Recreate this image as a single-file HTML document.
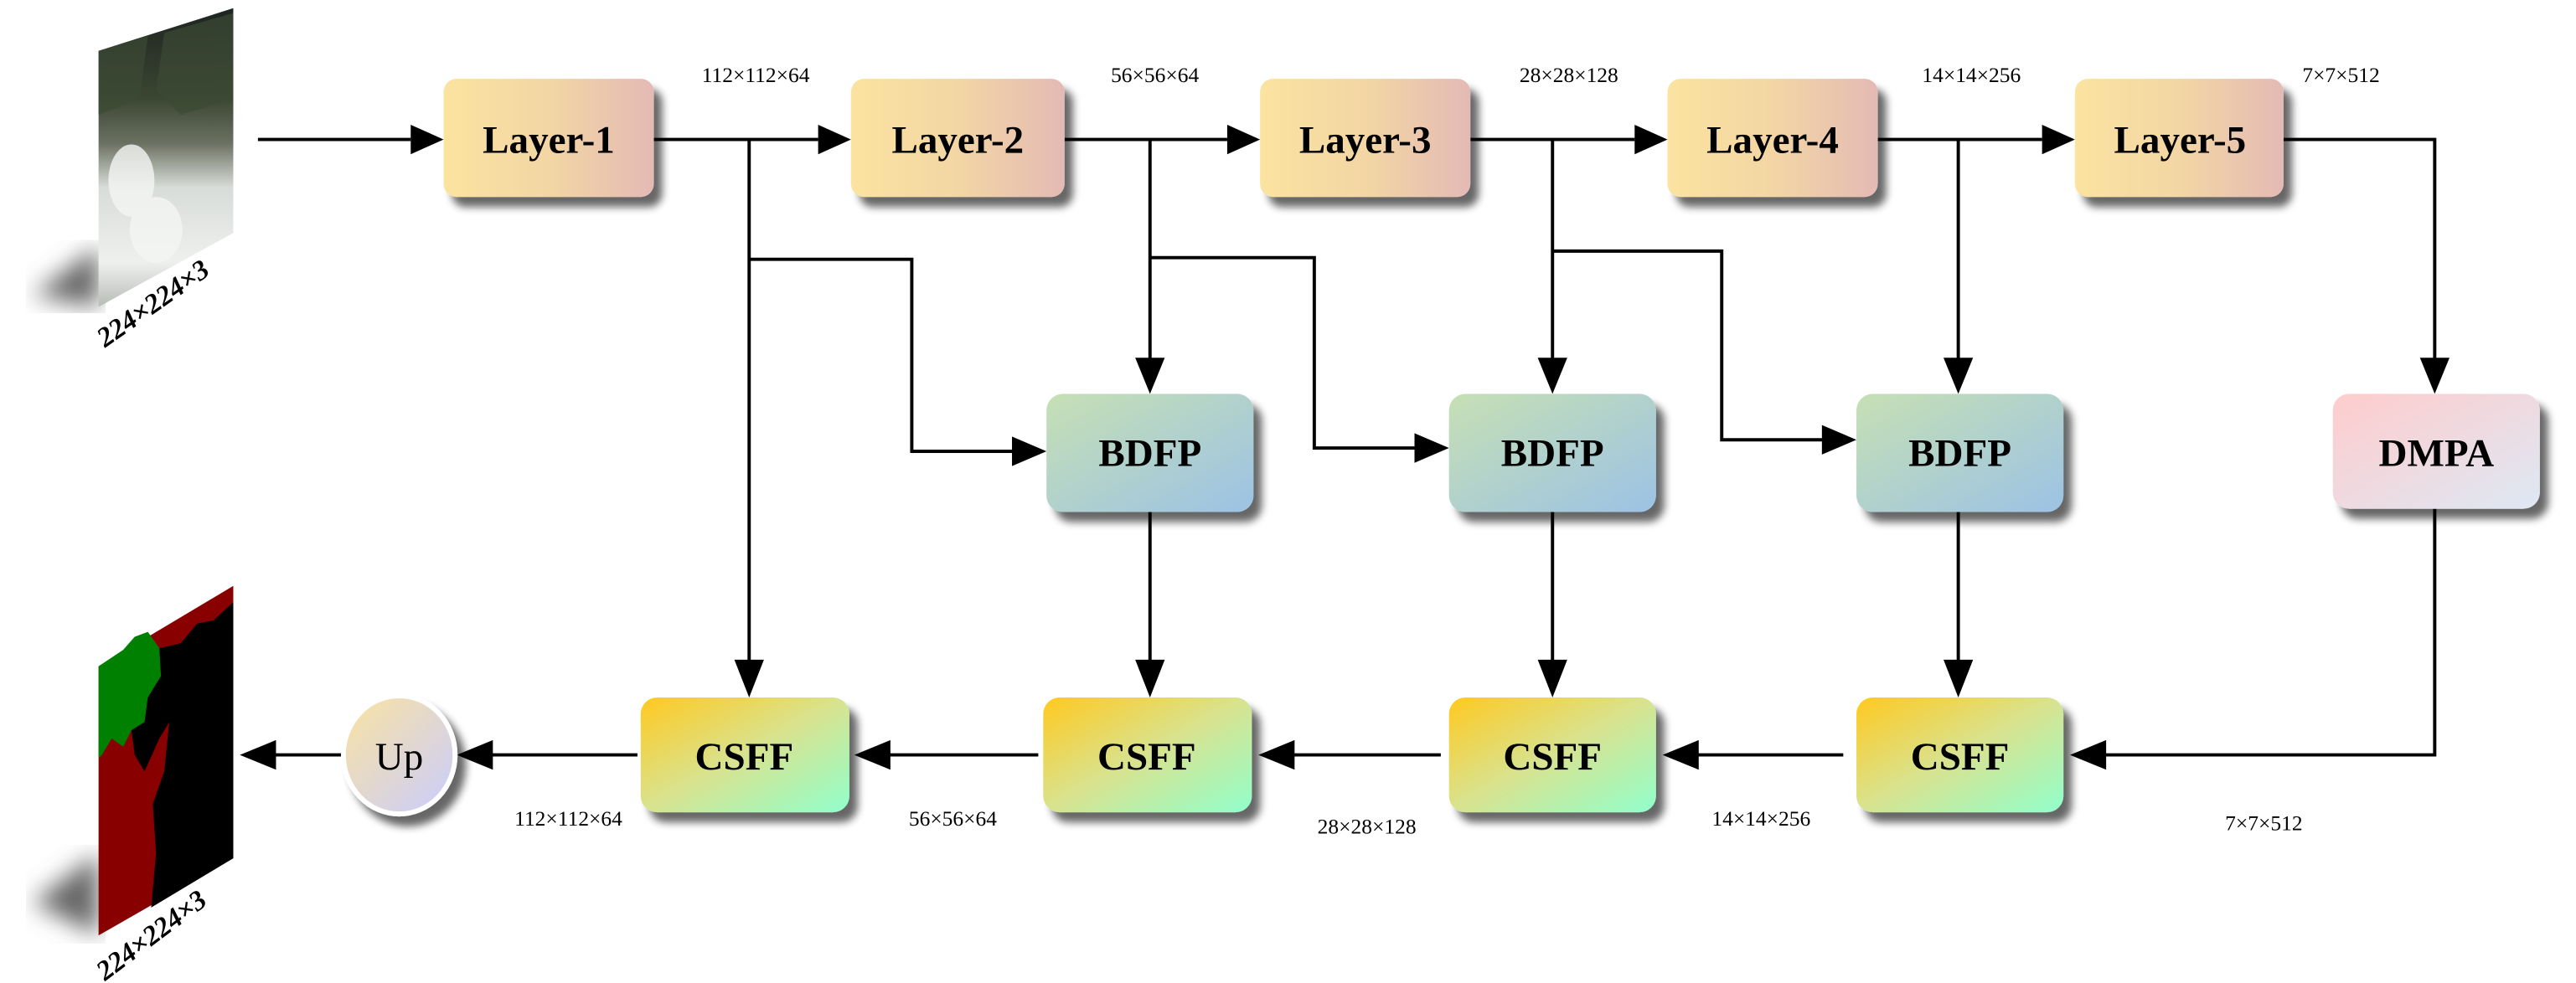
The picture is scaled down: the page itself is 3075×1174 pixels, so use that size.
<!DOCTYPE html>
<html><head><meta charset="utf-8"><style>
html,body{margin:0;padding:0;background:#fff;}
svg{display:block;}
text{font-family:"Liberation Serif",serif;}
</style></head><body>
<svg width="3075" height="1174" viewBox="0 0 1568 599" preserveAspectRatio="none" xmlns="http://www.w3.org/2000/svg">
<defs>
<linearGradient id="gL" x1="0" y1="0" x2="1" y2="0"><stop offset="0" stop-color="#fbe3a0"/><stop offset="0.5" stop-color="#f3d6a4"/><stop offset="1" stop-color="#e4bab5"/></linearGradient>
<linearGradient id="gB" x1="0" y1="0" x2="1" y2="1"><stop offset="0" stop-color="#c6e0b4"/><stop offset="1" stop-color="#9cc2e5"/></linearGradient>
<linearGradient id="gD" x1="0" y1="0" x2="1" y2="1"><stop offset="0" stop-color="#ffcccc"/><stop offset="1" stop-color="#dde8f4"/></linearGradient>
<linearGradient id="gC" x1="0" y1="0" x2="1" y2="1"><stop offset="0" stop-color="#ffc91f"/><stop offset="0.5" stop-color="#d8e390"/><stop offset="1" stop-color="#90ffcc"/></linearGradient>
<linearGradient id="gU" x1="0" y1="0" x2="1" y2="1"><stop offset="0" stop-color="#fbe3a0"/><stop offset="1" stop-color="#c8ccff"/></linearGradient>
<linearGradient id="gI" x1="0" y1="0" x2="0" y2="1"><stop offset="0" stop-color="#1e2420"/><stop offset="0.3" stop-color="#3a4632"/><stop offset="0.45" stop-color="#6a7060"/><stop offset="0.6" stop-color="#d8dcd8"/><stop offset="0.85" stop-color="#eef0ee"/><stop offset="1" stop-color="#b8bcb6"/></linearGradient>
<filter id="sh" x="-20%" y="-20%" width="150%" height="160%"><feGaussianBlur in="SourceAlpha" stdDeviation="2.5"/><feOffset dx="5" dy="6" result="b"/><feComponentTransfer><feFuncA type="linear" slope="0.6"/></feComponentTransfer><feMerge><feMergeNode/><feMergeNode in="SourceGraphic"/></feMerge></filter>
<filter id="blur"><feGaussianBlur stdDeviation="7"/></filter>
</defs>

<!-- input image -->
<polygon points="20,180 60,150 60,187" fill="#666" filter="url(#blur)"/>
<polygon points="60,31 142,5 142,142 60,187" fill="url(#gI)"/>
<g fill="#3c4a34" opacity="0.7">
<polygon points="100,20 142,8 142,60 110,70 95,55"/>
<polygon points="60,31 90,22 85,60 60,70"/>
</g>
<g fill="#f4f6f4" opacity="0.8">
<ellipse cx="80" cy="110" rx="14" ry="22"/>
<ellipse cx="95" cy="140" rx="16" ry="20"/>
</g>
<text x="0" y="0" font-size="17" font-style="italic" font-weight="bold" transform="translate(64,212) rotate(-35)">224×224×3</text>

<!-- output image -->
<polygon points="20,550 60,520 60,570" fill="#666" filter="url(#blur)"/>
<polygon points="60,406 142,357 142,523 60,570" fill="#880000"/>
<path d="M60,406 L75,396 L82,388 L90,385 L97,395 L98,412 L90,425 L88,440 L80,445 L75,455 L68,450 L62,460 L60,462 Z" fill="#008000"/>
<path d="M97,395 L110,392 L120,380 L130,378 L142,367 L142,523 L92,553 L95,520 L93,490 L100,470 L103,440 L97,450 L88,470 L82,460 L80,445 L88,440 L90,425 L98,412 Z" fill="#000"/>
<text x="0" y="0" font-size="17" font-style="italic" font-weight="bold" transform="translate(64,598) rotate(-37)">224×224×3</text>

<g stroke="#000" stroke-width="2" fill="none">
<line x1="157" y1="85" x2="250" y2="85"/>
<line x1="398" y1="85" x2="498" y2="85"/>
<line x1="648" y1="85" x2="747" y2="85"/>
<line x1="895" y1="85" x2="995" y2="85"/>
<line x1="1143" y1="85" x2="1243" y2="85"/>
<polyline points="1390,85 1482,85 1482,222"/>
<line x1="456" y1="85" x2="456" y2="405"/>
<line x1="700" y1="85" x2="700" y2="222"/>
<line x1="945" y1="85" x2="945" y2="222"/>
<line x1="1192" y1="85" x2="1192" y2="222"/>
<polyline points="456,158 555,158 555,275 618,275"/>
<polyline points="700,157 800,157 800,273 863,273"/>
<polyline points="945,153 1048,153 1048,268 1111,268"/>
<line x1="700" y1="312" x2="700" y2="405"/>
<line x1="945" y1="312" x2="945" y2="405"/>
<line x1="1192" y1="312" x2="1192" y2="405"/>
<polyline points="1482,310 1482,460 1280,460"/>
<line x1="1122" y1="460" x2="1030" y2="460"/>
<line x1="877" y1="460" x2="784" y2="460"/>
<line x1="632" y1="460" x2="538" y2="460"/>
<line x1="388" y1="460" x2="298" y2="460"/>
<line x1="208" y1="460" x2="165" y2="460"/>
</g>
<g fill="#000">
<polygon points="250,76 270,85 250,94"/>
<polygon points="498,76 518,85 498,94"/>
<polygon points="747,76 767,85 747,94"/>
<polygon points="995,76 1015,85 995,94"/>
<polygon points="1243,76 1263,85 1243,94"/>
<polygon points="1473,218 1482,240 1491,218"/>
<polygon points="447,402 456,425 465,402"/>
<polygon points="691,218 700,240 709,218"/>
<polygon points="936,218 945,240 954,218"/>
<polygon points="1183,218 1192,240 1201,218"/>
<polygon points="691,402 700,425 709,402"/>
<polygon points="936,402 945,425 954,402"/>
<polygon points="1183,402 1192,425 1201,402"/>
<polygon points="616,266 637,275 616,284"/>
<polygon points="861,264 882,273 861,282"/>
<polygon points="1109,259 1130,268 1109,277"/>
<polygon points="1282,451 1260,460 1282,469"/>
<polygon points="1034,451 1012,460 1034,469"/>
<polygon points="788,451 766,460 788,469"/>
<polygon points="542,451 520,460 542,469"/>
<polygon points="300,451 278,460 300,469"/>
<polygon points="168,451 146,460 168,469"/>
</g>

<g filter="url(#sh)">
<rect x="270" y="48" width="128" height="72" rx="8" fill="url(#gL)"/>
<rect x="518" y="48" width="130" height="72" rx="8" fill="url(#gL)"/>
<rect x="767" y="48" width="128" height="72" rx="8" fill="url(#gL)"/>
<rect x="1015" y="48" width="128" height="72" rx="8" fill="url(#gL)"/>
<rect x="1263" y="48" width="127" height="72" rx="8" fill="url(#gL)"/>
<rect x="637" y="240" width="126" height="72" rx="10" fill="url(#gB)"/>
<rect x="882" y="240" width="126" height="72" rx="10" fill="url(#gB)"/>
<rect x="1130" y="240" width="126" height="72" rx="10" fill="url(#gB)"/>
<rect x="1420" y="240" width="126" height="70" rx="10" fill="url(#gD)"/>
<rect x="390" y="425" width="127" height="70" rx="10" fill="url(#gC)"/>
<rect x="635" y="425" width="127" height="70" rx="10" fill="url(#gC)"/>
<rect x="882" y="425" width="126" height="70" rx="10" fill="url(#gC)"/>
<rect x="1130" y="425" width="126" height="70" rx="10" fill="url(#gC)"/>
<ellipse cx="243" cy="460" rx="34" ry="36" fill="url(#gU)" stroke="#fff" stroke-width="3"/>
</g>

<g font-weight="bold" font-size="24" text-anchor="middle">
<text x="334" y="93">Layer-1</text>
<text x="583" y="93">Layer-2</text>
<text x="831" y="93">Layer-3</text>
<text x="1079" y="93">Layer-4</text>
<text x="1327" y="93">Layer-5</text>
<text x="700" y="284">BDFP</text>
<text x="945" y="284">BDFP</text>
<text x="1193" y="284">BDFP</text>
<text x="1483" y="284">DMPA</text>
<text x="453" y="469">CSFF</text>
<text x="698" y="469">CSFF</text>
<text x="945" y="469">CSFF</text>
<text x="1193" y="469">CSFF</text>
</g>
<text x="243" y="469" font-size="24" text-anchor="middle">Up</text>

<g font-size="13" text-anchor="middle">
<text x="460" y="50">112×112×64</text>
<text x="703" y="50">56×56×64</text>
<text x="955" y="50">28×28×128</text>
<text x="1200" y="50">14×14×256</text>
<text x="1425" y="50">7×7×512</text>
<text x="346" y="503">112×112×64</text>
<text x="580" y="503">56×56×64</text>
<text x="832" y="508">28×28×128</text>
<text x="1072" y="503">14×14×256</text>
<text x="1378" y="506">7×7×512</text>
</g>
</svg>
</body></html>
